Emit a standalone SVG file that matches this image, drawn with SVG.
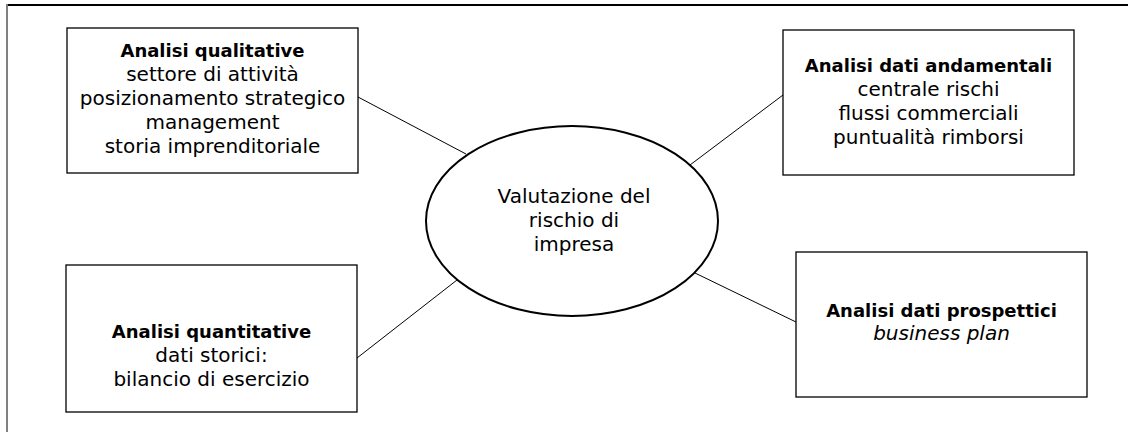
<svg xmlns="http://www.w3.org/2000/svg" width="1128" height="432" viewBox="0 0 1128 432">
<style>
.box{fill:#fff;stroke:#000;stroke-width:1.3}
.ell{fill:#fff;stroke:#000;stroke-width:2}
.con{stroke:#000;stroke-width:1;fill:none}
text{font-family:"DejaVu Sans","Liberation Sans",sans-serif;font-size:20px;fill:#000;text-anchor:middle}
.b{font-weight:bold;font-size:18px}
.i{font-style:italic}
</style>
<rect width="1128" height="432" fill="#fff"/>
<g id="frame">
<line x1="7" y1="5" x2="1128" y2="5" stroke="#000" stroke-width="2"/>
<line x1="7" y1="4" x2="7" y2="432" stroke="#808080" stroke-width="2"/>
</g>
<g id="connectors">
<line class="con" x1="358" y1="97" x2="466" y2="154"/>
<line class="con" x1="783" y1="95" x2="690" y2="165"/>
<line class="con" x1="357" y1="358" x2="457" y2="280"/>
<line class="con" x1="796" y1="322" x2="695" y2="273"/>
</g>
<g id="center">
<ellipse class="ell" cx="572" cy="221" rx="146" ry="95"/>
<text x="574" y="203">Valutazione del</text>
<text x="574" y="227">rischio di</text>
<text x="574" y="251">impresa</text>
</g>
<g id="qualitative">
<rect class="box" x="67" y="28" width="291" height="145"/>
<text class="b" x="212.5" y="57">Analisi qualitative</text>
<text x="212.5" y="81">settore di attività</text>
<text x="212.5" y="105">posizionamento strategico</text>
<text x="212.5" y="129">management</text>
<text x="212.5" y="153">storia imprenditoriale</text>
</g>
<g id="andamentali">
<rect class="box" x="783" y="30" width="291" height="145"/>
<text class="b" x="928.5" y="72">Analisi dati andamentali</text>
<text x="928.5" y="96">centrale rischi</text>
<text x="928.5" y="120">flussi commerciali</text>
<text x="928.5" y="144">puntualità rimborsi</text>
</g>
<g id="quantitative">
<rect class="box" x="66" y="265" width="291" height="147"/>
<text class="b" x="211.5" y="338">Analisi quantitative</text>
<text x="211.5" y="362">dati storici:</text>
<text x="211.5" y="386">bilancio di esercizio</text>
</g>
<g id="prospettici">
<rect class="box" x="796" y="252" width="291" height="145"/>
<text class="b" x="941.5" y="317">Analisi dati prospettici</text>
<text class="i" x="941.5" y="340">business plan</text>
</g>
</svg>
